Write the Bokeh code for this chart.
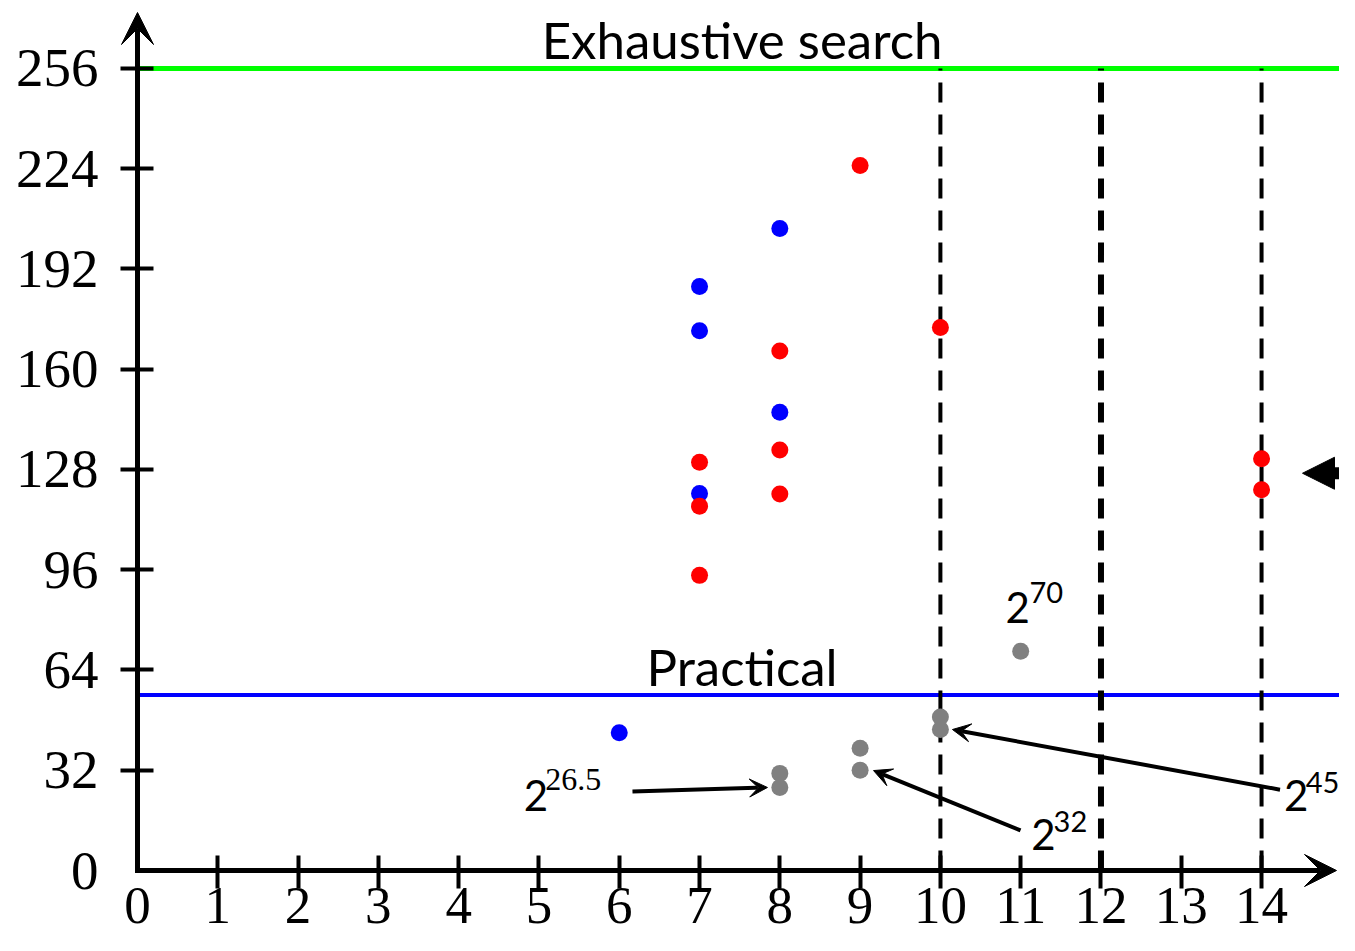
from bokeh.plotting import figure
from bokeh.models import (Range1d, FixedTicker, LinearAxis, Arrow, VeeHead, NormalHead,
                          ColumnDataSource, CustomJSTickFormatter)
from bokeh.core.properties import value
from bokeh.embed import file_html
from bokeh.resources import INLINE

# ---------------- data ----------------
blue_x = [6, 7, 7, 7, 8, 8]
blue_y = [44, 120.3, 172.3, 186.4, 146.3, 204.9]
red_x = [7, 7, 7, 8, 8, 8, 9, 10, 14, 14]
red_y = [130.3, 116.3, 94.2, 134.2, 120.2, 165.8, 225.0, 173.3, 131.4, 121.5]
gray_x = [8, 8, 9, 9, 10, 10, 11]
gray_y = [31, 26.5, 39, 32, 49, 45, 70]
exhaustive_level = 256
practical_level = 56
dashed_x = [10, 12, 14]
dashed_w = [4, 6, 4]
x_ticks = list(range(0, 15))
y_ticks = list(range(0, 257, 32))

# annotation labels (2^k): base "2" and exponent positions (text baseline)
sup_base_x = [10.81, 4.81, 11.13, 14.28]
sup_base_y = [79.2, 19.15, 6.7, 19.15]
sup_exp_x = [11.11, 5.08, 11.41, 14.55]
sup_exp_y = [85.2, 24.6, 12.1, 24.6]
sup_exp_text = ["70", "26.5", "32", "45"]

# annotation arrows (label -> point)
arr_x0 = [6.165, 10.998, 14.23]
arr_y0 = [25.2, 12.8, 25.8]
arr_x1 = [7.846, 9.167, 10.15]
arr_y1 = [26.5, 31.9, 45.0]

marker_level = 126.8

SANS = "Lato"
SERIF = "Liberation Serif"

PX_X = 80.29   # pixels per x unit
PX_Y = 3.133   # pixels per y unit
W, H = 1339, 935
OX, OY = 137, 870  # origin position inside the figure (px)

p = figure(width=W, height=H, output_backend="svg", toolbar_location=None,
           x_range=Range1d(-OX / PX_X, (W - OX) / PX_X),
           y_range=Range1d(-(H - OY) / PX_Y, OY / PX_Y),
           x_axis_type=None, y_axis_type=None,
           min_border_left=0, min_border_right=0, min_border_top=0, min_border_bottom=0)
p.title.visible = False
p.outline_line_color = None
p.background_fill_color = "white"
p.border_fill_color = "white"

empty = CustomJSTickFormatter(code="return ''")

# x axis: ticks only, then labels
xa_t = LinearAxis(ticker=FixedTicker(ticks=x_ticks[1:]), formatter=empty, fixed_location=0,
                  axis_line_color=None, major_tick_in=15, major_tick_out=18,
                  major_tick_line_width=4, major_tick_line_color="black",
                  minor_tick_line_color=None, major_label_standoff=0)
xa_l = LinearAxis(ticker=FixedTicker(ticks=x_ticks), fixed_location=0, axis_line_color=None,
                  major_tick_in=0, major_tick_out=0, major_tick_line_color=None,
                  minor_tick_line_color=None, major_label_standoff=17,
                  major_label_text_font=SERIF, major_label_text_font_size="53px",
                  major_label_text_color="black")
p.add_layout(xa_t, "below")
p.add_layout(xa_l, "below")

ya_t = LinearAxis(ticker=FixedTicker(ticks=y_ticks[1:]), formatter=empty, fixed_location=0,
                  axis_line_color=None, major_tick_in=16, major_tick_out=17,
                  major_tick_line_width=4, major_tick_line_color="black",
                  minor_tick_line_color=None, major_label_standoff=0)
ya_l = LinearAxis(ticker=FixedTicker(ticks=y_ticks), fixed_location=0, axis_line_color=None,
                  major_tick_in=0, major_tick_out=0, major_tick_line_color=None,
                  minor_tick_line_color=None, major_label_standoff=39,
                  major_label_text_font=SERIF, major_label_text_font_size="55px",
                  major_label_text_color="black")
p.add_layout(ya_t, "left")
p.add_layout(ya_l, "left")

# reference levels, starting at the y axis
p.ray(x=[0], y=[exhaustive_level], length=0, angle=0, line_color="#00ff00", line_width=5)
p.ray(x=[0], y=[practical_level], length=0, angle=0, line_color="#0000ff", line_width=4)

# dashed verticals
dsrc = ColumnDataSource(dict(x=dashed_x, y0=[0] * 3, y1=[exhaustive_level] * 3, w=dashed_w))
p.segment(x0="x", y0="y0", x1="x", y1="y1", line_width="w", line_color="black",
          line_dash="20 12", source=dsrc)

# axis lines with arrow heads
p.add_layout(Arrow(x_start=0, y_start=-2.5 / PX_Y, x_end=0, y_end=(OY - 12) / PX_Y,
                   line_width=5, line_color="black",
                   end=VeeHead(size=32, fill_color="black", line_color="black", line_width=1)))
p.add_layout(Arrow(x_start=-2.5 / PX_X, y_start=0, x_end=(W - 3 - OX) / PX_X, y_end=0,
                   line_width=5, line_color="black",
                   end=VeeHead(size=32, fill_color="black", line_color="black", line_width=1)))

# points
p.scatter(gray_x, gray_y, size=17, fill_color="#808080", line_color=None)
p.scatter(blue_x, blue_y, size=17, fill_color="#0000ff", line_color=None)
p.scatter(red_x, red_y, size=17, fill_color="#ff0000", line_color=None)

# texts (baseline correction in data units, proportional to font size)
def lift(fs_px, k=0.41):
    return k * fs_px / PX_Y

p.text(x=[7.53], y=[258.5 + lift(51)], text=["Exhaustive search"], text_font=value(SANS),
       text_font_size="51px", text_align="center", text_baseline="alphabetic", text_color="black")
p.text(x=[7.53], y=[58.3 + lift(51)], text=["Practical"], text_font=value(SANS),
       text_font_size="51px", text_align="center", text_baseline="alphabetic", text_color="black")

p.text(x=sup_base_x, y=[v + lift(42, 0.36) for v in sup_base_y], text=["2"] * 4,
       text_font=value(SANS), text_font_size="42px", text_align="left",
       text_baseline="alphabetic", text_color="black")
sans_idx = [0, 2, 3]
p.text(x=[sup_exp_x[i] for i in sans_idx],
       y=[sup_exp_y[i] + lift(29, 0.38) for i in sans_idx],
       text=[sup_exp_text[i] for i in sans_idx], text_font=value(SANS),
       text_font_size="29px", text_align="left", text_baseline="alphabetic", text_color="black")
p.text(x=[sup_exp_x[1]], y=[sup_exp_y[1] + lift(32, 0.42)], text=[sup_exp_text[1]],
       text_font=value(SERIF), text_font_size="32px", text_align="left",
       text_baseline="alphabetic", text_color="black")

for x0, y0, x1, y1 in zip(arr_x0, arr_y0, arr_x1, arr_y1):
    p.add_layout(Arrow(x_start=x0, y_start=y0, x_end=x1, y_end=y1, line_width=4,
                       line_color="black",
                       end=VeeHead(size=18, fill_color="black", line_color="black", line_width=1)))

# marker arrow on the right
p.add_layout(Arrow(x_start=15.3, y_start=marker_level, x_end=(1302 - OX) / PX_X, y_end=marker_level,
                   line_width=12, line_color="black",
                   end=NormalHead(size=32, fill_color="black", line_color="black", line_width=1)))

open("out.html", "w").write(file_html(p, INLINE))
